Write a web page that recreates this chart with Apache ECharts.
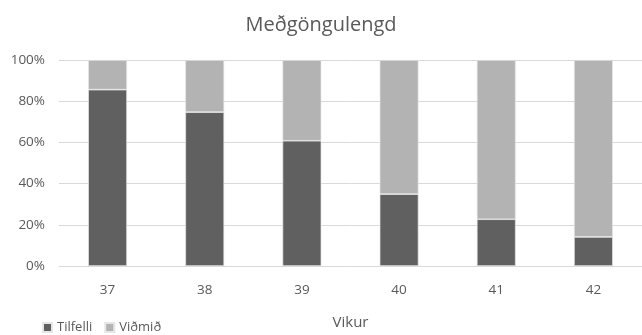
<!DOCTYPE html>
<html>
<head>
<meta charset="utf-8">
<script src="https://cdn.jsdelivr.net/npm/echarts@6/dist/echarts.min.js"></script>
<style>
html,body{margin:0;padding:0;background:#fff;}
#chart{width:642px;height:335px;}
</style>
</head>
<body>
<div id="chart"></div>
<script>
// Pregnancy length by week: share of cases vs. reference group (percent)
const weeks = ['37', '38', '39', '40', '41', '42'];
const tilfelli = [85.6, 74.7, 60.8, 34.9, 22.7, 14.1];
const vidmid = [14.4, 25.3, 39.2, 65.1, 77.3, 85.9];
const yTicks = [0, 20, 40, 60, 80, 100];

const font = 'Open Sans, Liberation Sans, sans-serif';
const textColor = '#595959';

const chart = echarts.init(document.getElementById('chart'), null, {renderer: 'canvas'});
chart.setOption({
  animation: false,
  title: {
    text: 'Meðgöngulengd',
    left: 'center',
    top: 10,
    textStyle: {fontFamily: font, fontSize: 20, fontWeight: 'normal', color: textColor}
  },
  legend: {
    left: 37,
    top: 316,
    itemWidth: 9,
    itemHeight: 9,
    itemGap: 12,
    icon: 'rect',
    textStyle: {fontFamily: font, fontSize: 13, color: textColor, padding: [0, 0, 0, 0]},
    data: ['Tilfelli', 'Viðmið']
  },
  grid: {left: 59, top: 60, width: 588, height: 208.3, containLabel: false},
  xAxis: {
    type: 'category',
    data: weeks,
    name: 'Vikur',
    nameLocation: 'middle',
    nameGap: 49,
    nameTextStyle: {fontFamily: font, fontSize: 15, color: textColor},
    axisLine: {show: false},
    axisTick: {show: false},
    axisLabel: {fontFamily: font, fontSize: 13.5, color: textColor, margin: 17}
  },
  yAxis: {
    type: 'value',
    min: yTicks[0],
    max: yTicks[yTicks.length - 1],
    interval: 20,
    axisLine: {show: false},
    axisTick: {show: false},
    axisLabel: {fontFamily: font, fontSize: 13.5, color: textColor, margin: 14, formatter: '{value}%'},
    splitLine: {lineStyle: {color: '#d9d9d9', width: 1}}
  },
  series: [
    {
      name: 'Tilfelli',
      type: 'bar',
      stack: 'total',
      barWidth: '40%',
      data: tilfelli,
      itemStyle: {color: '#606060', borderColor: '#e6e6e6', borderWidth: 0.7}
    },
    {
      name: 'Viðmið',
      type: 'bar',
      stack: 'total',
      barWidth: '40%',
      data: vidmid,
      itemStyle: {color: '#b3b3b3', borderColor: '#e6e6e6', borderWidth: 0.7}
    }
  ]
});
</script>
</body>
</html>
